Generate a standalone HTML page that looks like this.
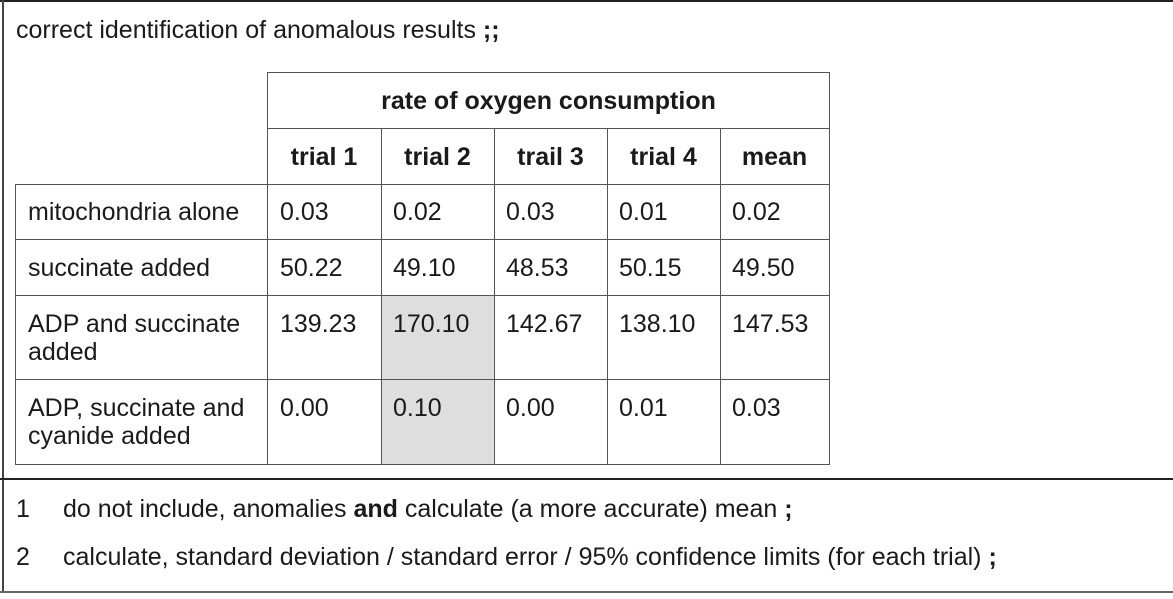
<!DOCTYPE html>
<html><head><style>
body{margin:0;width:1173px;height:599px;background:#fff;position:relative;overflow:hidden;font-family:"Liberation Sans",Arial,sans-serif;color:#1a1a1a;font-size:25px;}
.l{position:absolute;background:#555;}
.t{position:absolute;white-space:nowrap;line-height:28px;}
.b{font-weight:bold;}
</style></head><body>
<div class="l" style="left:0;top:0;width:1173px;height:2px;background:#222"></div>
<div class="l" style="left:2px;top:0;width:2px;height:592px;background:#444"></div>
<div class="l" style="left:0;top:478px;width:1173px;height:2px;background:#222"></div>
<div class="l" style="left:0;top:591px;width:1173px;height:2px;background:#666"></div>
<div style="position:absolute;left:381px;top:295px;width:113px;height:169px;background:#dedede"></div>
<div class="l" style="left:267px;top:72px;width:563px;height:1px"></div>
<div class="l" style="left:267px;top:128px;width:563px;height:1px"></div>
<div class="l" style="left:15px;top:184px;width:815px;height:1px"></div>
<div class="l" style="left:15px;top:239px;width:815px;height:1px"></div>
<div class="l" style="left:15px;top:295px;width:815px;height:1px"></div>
<div class="l" style="left:15px;top:379px;width:815px;height:1px"></div>
<div class="l" style="left:15px;top:464px;width:815px;height:1px"></div>
<div class="l" style="left:15px;top:184px;width:1px;height:281px"></div>
<div class="l" style="left:267px;top:72px;width:1px;height:393px"></div>
<div class="l" style="left:381px;top:128px;width:1px;height:337px"></div>
<div class="l" style="left:494px;top:128px;width:1px;height:337px"></div>
<div class="l" style="left:607px;top:128px;width:1px;height:337px"></div>
<div class="l" style="left:720px;top:128px;width:1px;height:337px"></div>
<div class="l" style="left:829px;top:72px;width:1px;height:393px"></div>

<div class="t" style="left:16px;top:16px">correct identification of anomalous results <b>;;</b></div>
<div class="t b" style="left:267px;width:563px;text-align:center;top:87px">rate of oxygen consumption</div>
<div class="t b" style="left:267px;width:114px;text-align:center;top:143px">trial 1</div>
<div class="t b" style="left:381px;width:113px;text-align:center;top:143px">trial 2</div>
<div class="t b" style="left:494px;width:113px;text-align:center;top:143px">trail 3</div>
<div class="t b" style="left:607px;width:113px;text-align:center;top:143px">trial 4</div>
<div class="t b" style="left:720px;width:109px;text-align:center;top:143px">mean</div>

<div class="t" style="left:28px;top:198px">mitochondria alone</div>
<div class="t" style="left:28px;top:254px">succinate added</div>
<div class="t" style="left:28px;top:310px">ADP and succinate<br>added</div>
<div class="t" style="left:28px;top:394px">ADP, succinate and<br>cyanide added</div>

<div class="t" style="left:280px;top:198px">0.03</div><div class="t" style="left:393px;top:198px">0.02</div><div class="t" style="left:506px;top:198px">0.03</div><div class="t" style="left:619px;top:198px">0.01</div><div class="t" style="left:732px;top:198px">0.02</div>
<div class="t" style="left:280px;top:254px">50.22</div><div class="t" style="left:393px;top:254px">49.10</div><div class="t" style="left:506px;top:254px">48.53</div><div class="t" style="left:619px;top:254px">50.15</div><div class="t" style="left:732px;top:254px">49.50</div>
<div class="t" style="left:280px;top:310px">139.23</div><div class="t" style="left:393px;top:310px">170.10</div><div class="t" style="left:506px;top:310px">142.67</div><div class="t" style="left:619px;top:310px">138.10</div><div class="t" style="left:732px;top:310px">147.53</div>
<div class="t" style="left:280px;top:394px">0.00</div><div class="t" style="left:393px;top:394px">0.10</div><div class="t" style="left:506px;top:394px">0.00</div><div class="t" style="left:619px;top:394px">0.01</div><div class="t" style="left:732px;top:394px">0.03</div>

<div class="t" style="left:16px;top:495px">1</div>
<div class="t" style="left:63px;top:495px">do not include, anomalies <b>and</b> calculate (a more accurate) mean <b>;</b></div>
<div class="t" style="left:16px;top:543px">2</div>
<div class="t" style="left:63px;top:543px">calculate, standard deviation / standard error / 95% confidence limits (for each trial) <b>;</b></div>
</body></html>
